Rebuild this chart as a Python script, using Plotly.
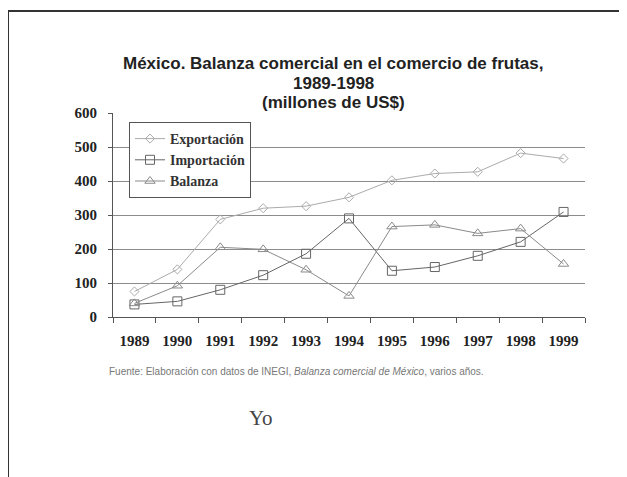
import plotly.graph_objects as go

years = ["1989", "1990", "1991", "1992", "1993", "1994", "1995", "1996", "1997", "1998", "1999"]
exportacion = [75, 140, 287, 320, 326, 352, 402, 422, 427, 482, 466]
importacion = [37, 46, 80, 123, 186, 290, 136, 147, 180, 221, 309]
balanza = [40, 92, 205, 199, 139, 62, 266, 271, 246, 260, 156]
y_ticks = [0, 100, 200, 300, 400, 500, 600]

# page body has an 8px margin: work in screen coords and offset
OFF = 8
W, H = 627 - OFF, 477 - OFF
L, R, T, B = 113 - OFF, 627 - 585, 113 - OFF, 477 - 317
pw, ph = W - L - R, H - T - B

def px(x):
    return (x - OFF - L) / pw

def py(y):
    return (H - B - (y - OFF)) / ph

serif = "Liberation Serif, Times New Roman, serif"
sans = "Liberation Sans, Arial, sans-serif"

fig = go.Figure()
series = [
    ("Exportación", exportacion, "diamond-open", "#ababab", 7),
    ("Importación", importacion, "square-open", "#666666", 9),
    ("Balanza", balanza, "triangle-up-open", "#8a8a8a", 9),
]
for name, vals, sym, col, ms in series:
    fig.add_trace(go.Scatter(
        x=years, y=vals, name=name, mode="lines+markers",
        line=dict(color=col, width=1),
        marker=dict(symbol=sym, size=ms, color=col, line=dict(width=1, color=col)),
    ))

title_lines = ["México. Balanza comercial en el comercio de frutas,", "1989-1998", "(millones de US$)"]
title_y = [63, 83, 103]

annotations = []
for t, yy in zip(title_lines, title_y):
    annotations.append(dict(
        text=t, xref="paper", yref="paper", x=px(333), y=py(yy), xanchor="center", yanchor="middle",
        showarrow=False, font=dict(family=sans, size=17, color="#222222", weight="bold"),
    ))
annotations += [
    dict(
        text="Fuente: Elaboración con datos de INEGI, <i>Balanza comercial de México</i>, varios años.",
        xref="paper", yref="paper", x=px(107), y=py(371), xanchor="left", yanchor="middle",
        showarrow=False, font=dict(family=sans, size=10, color="#777777"),
    ),
    dict(
        text="Yo", xref="paper", yref="paper", x=px(247), y=py(418), xanchor="left", yanchor="middle",
        showarrow=False, font=dict(family=serif, size=21, color="#444444"),
    ),
]

fig.update_layout(
    width=W, height=H,
    margin=dict(l=L, r=R, t=T, b=B),
    paper_bgcolor="white", plot_bgcolor="white",
    showlegend=True,
    legend=dict(
        x=px(129), y=py(122), xanchor="left", yanchor="top",
        bordercolor="#555555", borderwidth=1, bgcolor="white",
        font=dict(family=serif, size=14, color="#333333", weight="bold"),
        itemwidth=30, tracegroupgap=0,
    ),
    xaxis=dict(
        type="category", tickson="boundaries", ticks="outside", ticklen=5,
        tickcolor="#555555", showline=True, linecolor="#555555", linewidth=1,
        showgrid=False, zeroline=False,
        tickfont=dict(family=serif, size=15, color="#222222", weight="bold"),
        ticklabelstandoff=10,
        range=[-0.5, 10.5],
    ),
    yaxis=dict(
        range=[0, 600], tickvals=y_ticks, ticks="outside", ticklen=4,
        tickcolor="#555555", showline=True, linecolor="#555555", linewidth=1,
        showgrid=True, gridcolor="#8c8c8c", gridwidth=1, zeroline=False,
        tickfont=dict(family=serif, size=15, color="#222222", weight="bold"),
        ticklabelstandoff=8,
    ),
    shapes=[
        dict(type="line", xref="paper", yref="paper", x0=px(8), x1=px(627), y0=py(11), y1=py(11),
             line=dict(color="#333333", width=2)),
        dict(type="line", xref="paper", yref="paper", x0=px(8), x1=px(8), y0=py(11), y1=py(477),
             line=dict(color="#333333", width=2)),
    ],
    annotations=annotations,
)

fig.write_html("out.html")
